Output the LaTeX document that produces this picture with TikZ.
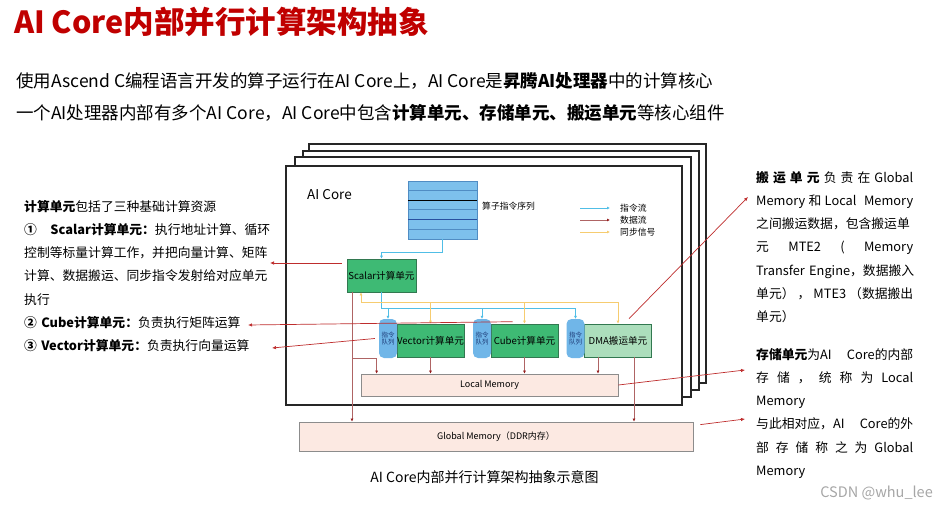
\documentclass[tikz,border=0pt]{standalone}
\usepackage{fontspec}
\setmainfont{Noto Sans CJK SC}
\usetikzlibrary{arrows.meta,positioning}

\definecolor{titlered}{RGB}{192,0,0}
\definecolor{seqblue}{RGB}{125,192,236}
\definecolor{seqline}{RGB}{80,140,195}
\definecolor{seqdark}{RGB}{40,80,160}
\definecolor{unitgreen}{RGB}{62,186,116}
\definecolor{unitedge}{RGB}{50,120,80}
\definecolor{dmagreen}{RGB}{172,222,188}
\definecolor{queueblue}{RGB}{112,182,232}
\definecolor{queuetext}{RGB}{30,60,120}
\definecolor{memfill}{RGB}{252,233,226}
\definecolor{instr}{RGB}{80,190,230}
\definecolor{dataline}{RGB}{175,100,100}
\definecolor{datahead}{RGB}{150,30,30}
\definecolor{sync}{RGB}{246,204,112}
\definecolor{callout}{RGB}{190,45,45}

% one justified line of a note
\newcommand{\jl}[1]{\makebox[\linewidth][s]{#1}}
\newcommand{\gap}{\hspace{0pt plus 1fil}}

\tikzset{
  frame/.style={draw=black!85,line width=1.1pt,fill=white},
  titletext/.style={text=titlered,font=\fontsize{30.5}{34}\selectfont\bfseries,inner sep=0pt},
  introtext/.style={font=\fontsize{17.5}{20}\selectfont,inner sep=0pt},
  notetext/.style={font=\fontsize{12.8}{23.2}\selectfont,inner sep=0pt,align=left},
  smalltext/.style={font=\fontsize{8.8}{10}\selectfont,inner sep=0pt},
  seqbox/.style={draw=seqline,fill=seqblue,minimum width=69pt,minimum height=58pt,inner sep=0pt},
  unitbox/.style={draw=unitedge,line width=0.6pt,fill=unitgreen,minimum width=67pt,minimum height=33pt,inner sep=0pt,font=\fontsize{9.6}{11}\selectfont},
  queuebox/.style={fill=queueblue,rounded corners=5pt,minimum width=18pt,minimum height=39pt,inner sep=0pt,align=center,text=queuetext,font=\fontsize{6.5}{7.5}\selectfont},
  membox/.style={draw=black!45,line width=0.8pt,fill=memfill,inner sep=0pt,font=\fontsize{9}{11}\selectfont},
  instrline/.style={draw=instr,line width=0.7pt},
  instrarrow/.style={instrline,-{Latex[length=3pt,width=3pt]}},
  dataarrow/.style={draw=dataline,line width=0.6pt,-{Latex[length=3pt,width=3pt,color=datahead]}},
  syncline/.style={draw=sync,line width=0.7pt},
  syncarrow/.style={syncline,-{Latex[length=3pt,width=3pt]}},
  callarrow/.style={draw=callout,line width=0.7pt,-{Latex[length=4pt,width=3.5pt]}}
}

\begin{document}
\begin{tikzpicture}[x=1pt,y=-1pt]
\useasboundingbox (0,0) rectangle (937,508);

% title
\node[titletext,anchor=west] (title) at (14,21.5) {AI Core内部并行计算架构抽象};
\node[introtext,anchor=west] (intro1) at (16,81) {使用Ascend C编程语言开发的算子运行在AI Core上，AI Core是\textbf{昇腾AI处理器}中的计算核心};
\node[introtext,anchor=west] (intro2) at (16,113) {一个AI处理器内部有多个AI Core，AI Core中包含\textbf{计算单元、存储单元、搬运单元}等核心组件};

% stacked cores
\foreach \a/\b/\c/\d in {309/144/706/383, 303/151/699/390, 295/157/691/397}
  \draw[frame] (\a,\b) rectangle (\c,\d);
\node[frame,minimum width=396pt,minimum height=239pt] (core) at (484,285.5) {};
\node[anchor=west,inner sep=0pt,font=\fontsize{13.5}{15}\selectfont] (corelabel) at (307,195) {AI Core};

% instruction sequence
\node[seqbox] (seq) at (442.5,210) {};
\foreach \k/\c in {1/seqline,2/black,3/seqline,4/seqdark,5/seqline}
  \draw[\c,line width=0.7pt] ([yshift=-\k*9.67pt]seq.north west) -- ([yshift=-\k*9.67pt]seq.north east);
\node[smalltext,anchor=west] (seqlabel) at (482,206) {算子指令序列};

% legend
\foreach \y/\s/\t [count=\i] in {208/instrarrow/指令流, 220/dataarrow/数据流, 232/syncarrow/同步信号}{
  \coordinate (leg\i) at (580,\y);
  \draw[\s] (leg\i) -- ++(30,0);
  \node[smalltext,anchor=west] (legtext\i) at (620,\y) {\t};
}

% units
\node[unitbox,minimum width=69pt] (scalar) at (381.5,275.5) {Scalar计算单元};
\foreach \n/\x/\t/\c in {vec/430.5/Vector计算单元/unitgreen, cube/524.5/Cube计算单元/unitgreen, dma/618/DMA搬运单元/dmagreen}{
  \node[unitbox,fill=\c] (\n) at (\x,340.5) {\t};
  \node[queuebox] (q\n) at (\x-42.5,338.5) {指令\\队列};
}

% memories
\node[membox,minimum width=257pt,minimum height=22pt] (lm) at (489.5,385) {Local Memory};
\node[membox,minimum width=394pt,minimum height=29pt] (gm) at (496,436.5) {Global Memory（DDR内存）};

% instruction flow
\draw[instrarrow] (seq.south) -- (seq.south |- 0,252) -| (scalar.north);
\draw[instrline] (scalar.south) |- (qdma.north |- 0,308);
\foreach \n in {vec,cube,dma}
  \draw[instrarrow] (q\n.north |- 0,308) -- (q\n.north);

% sync signals
\coordinate (synctap) at (361,302);
\draw[syncarrow] (synctap) -- (synctap |- scalar.south);
\draw[syncline] (synctap) -- (synctap -| dma.north);
\foreach \n in {vec,cube,dma}
  \draw[syncarrow] (\n.north |- synctap) -- (\n.north);

% data flow
\coordinate (datatap) at (352,292);
\draw[dataarrow] (datatap) -- (datatap |- gm.north);
\draw[dataarrow] (datatap |- 0,358) -| ([xshift=16pt]lm.north west);
\foreach \n/\dx in {vec/0,cube/0,dma/-20}
  \draw[dataarrow] ([xshift=\dx pt]\n.south) -- ([xshift=\dx pt]\n.south |- lm.north);
\draw[dataarrow] ([xshift=16pt]dma.south) -- ([xshift=16pt]dma.south |- gm.north);

% notes
\node[notetext,text width=246pt,anchor=north west] (computenote) at (24,200) {%
\textbf{计算单元}包括了三种基础计算资源\\
\jl{\textbf{①\hspace{3pt plus 1fil}Scalar计算单元：}执行地址计算、循环}\\
\jl{控制等标量计算工作，并把向量计算、矩阵}\\
\jl{计算、数据搬运、同步指令发射给对应单元}\\
执行\\
\textbf{② Cube计算单元：}负责执行矩阵运算\\
\textbf{③ Vector计算单元：}负责执行向量运算};

\node[notetext,text width=157pt,anchor=north west] (movenote) at (756,171) {%
\jl{\textbf{搬\gap 运\gap 单\gap 元}\gap 负\gap 责\gap 在\gap Global}\\
\jl{Memory\gap 和\gap Local \gap Memory}\\
\jl{之间搬运数据，包含搬运单}\\
\jl{元 \gap MTE2 \gap ( \gap Memory}\\
\jl{Transfer Engine，数据搬入}\\
\jl{单元）\gap ，\gap MTE3\gap （数据搬出}\\
单元）};

\node[notetext,text width=157pt,anchor=north west] (storenote) at (756,348) {%
\jl{\textbf{存储单元}为AI \gap Core的内部}\\
\jl{存\gap 储\gap ，\gap 统\gap 称\gap 为\gap Local}\\
Memory\\
\jl{与此相对应，AI \gap Core的外}\\
\jl{部\gap 存\gap 储\gap 称\gap 之\gap 为\gap Global}\\
Memory};

% callouts
\coordinate (scalarnote) at (270,263);
\coordinate (cubenote) at (248,325);
\coordinate (vecnote) at (272,348);
\coordinate (dmanote) at (748,197);
\coordinate (lmnote) at (745,370);
\coordinate (gmnote) at (745,419);
\draw[callarrow] ([xshift=-5pt]scalar.west |- scalarnote) -- (scalarnote);
\draw[callarrow] ([xshift=22pt,yshift=2pt]cube.north west) -- (cubenote);
\draw[callarrow] ([xshift=-4pt]qvec.west) -- (vecnote);
\draw[callarrow] ([xshift=11pt,yshift=5pt]dma.north) -- (dmanote);
\draw[callarrow] (lm.east) -- (lmnote);
\draw[callarrow] ([xshift=7pt,yshift=-3pt]gm.north east) -- (gmnote);

% caption
\node[font=\fontsize{14}{16}\selectfont,inner sep=0pt] (caption) at (484.5,477) {AI Core内部并行计算架构抽象示意图};
\node[anchor=east,inner sep=0pt,text=black!35,font=\fontsize{14.5}{16}\selectfont] (mark) at (933,493) {CSDN @whu\_lee};
\end{tikzpicture}
\end{document}
